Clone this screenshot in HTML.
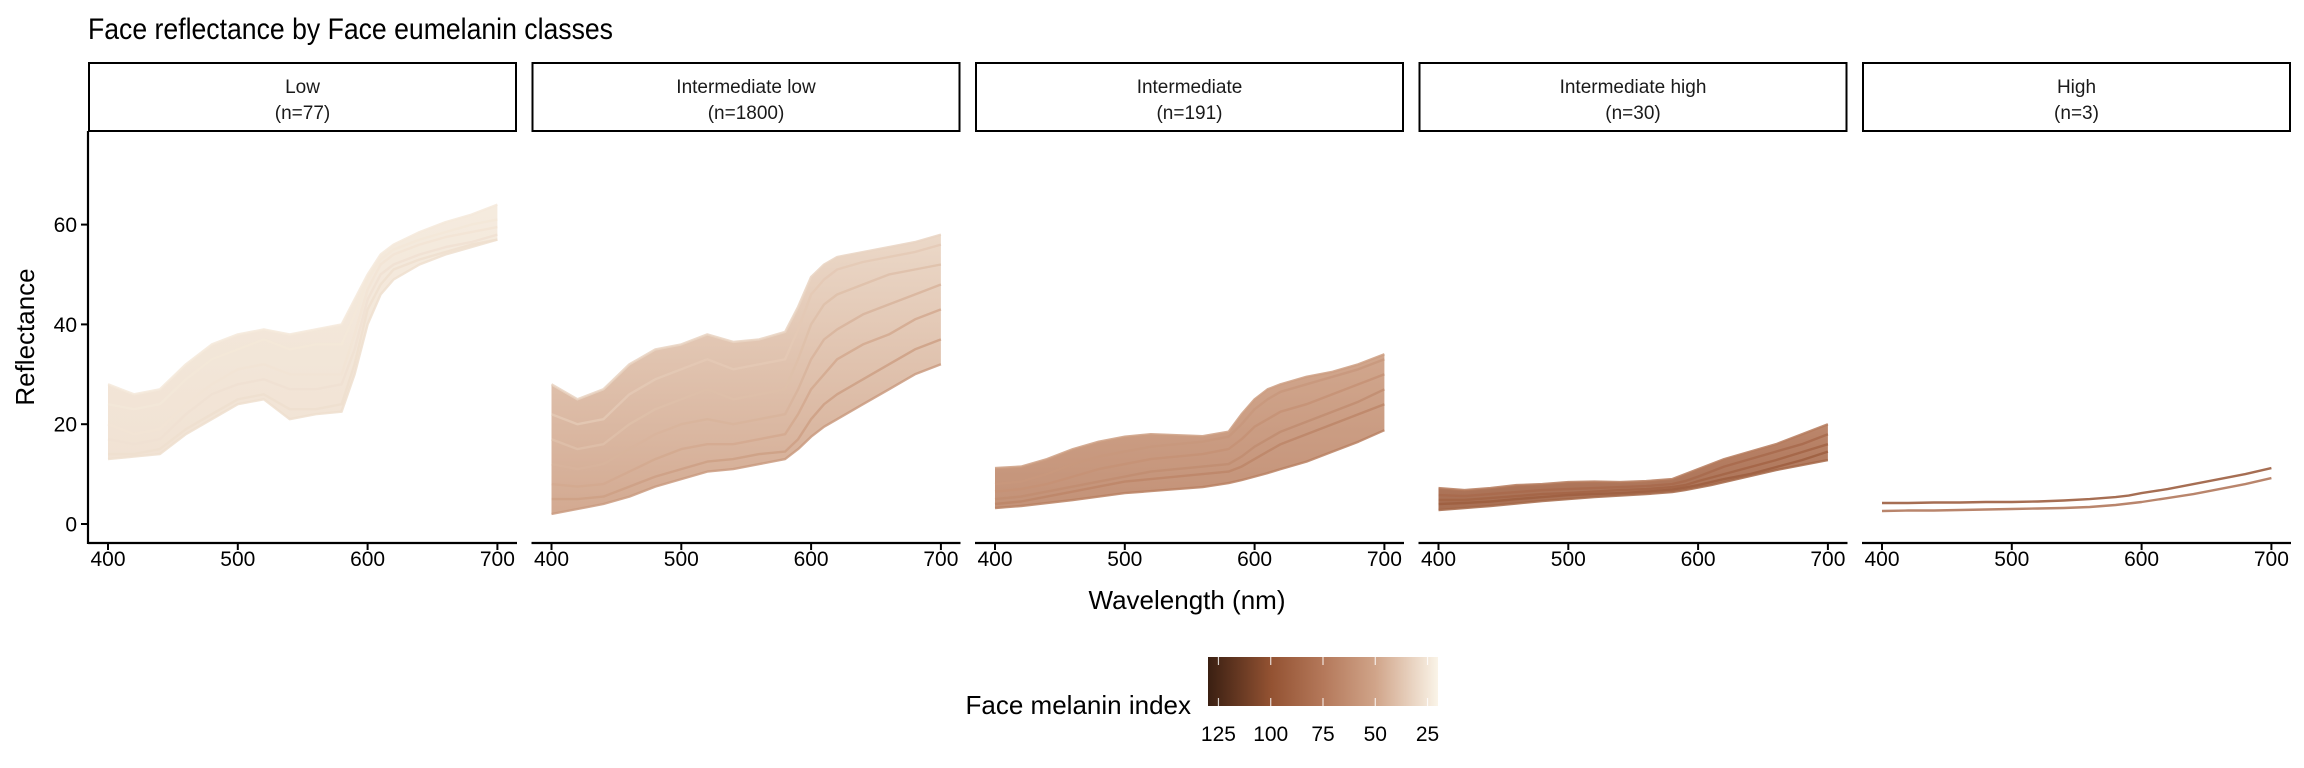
<!DOCTYPE html>
<html><head><meta charset="utf-8">
<style>
html,body{margin:0;padding:0;background:#fff;}
svg{display:block;font-family:"Liberation Sans",Arial,sans-serif;}
</style></head>
<body>
<svg id="chart" width="2304" height="768" viewBox="0 0 2304 768" xmlns="http://www.w3.org/2000/svg">
<defs id="defs">
<linearGradient id="legendGrad" x1="0" x2="1" y1="0" y2="0"></linearGradient>
</defs>
<text x="88" y="39" font-size="30" textLength="525" lengthAdjust="spacingAndGlyphs" fill="#000">Face reflectance by Face eumelanin classes</text>
<text transform="translate(34,337) rotate(-90)" text-anchor="middle" font-size="26" fill="#000">Reflectance</text>
<text x="1187" y="609" text-anchor="middle" font-size="26" fill="#000">Wavelength (nm)</text>
<g id="panels"></g>
<g id="legend"></g>
</svg>
<script>
const NS="http://www.w3.org/2000/svg";
const wavelengths=[400,420,440,460,480,500,520,540,560,580,590,600,610,620,640,660,680,700];
const panelLabels=["Low","Intermediate low","Intermediate","Intermediate high","High"];
const panelCounts=["(n=77)","(n=1800)","(n=191)","(n=30)","(n=3)"];
const xTicks=[400,500,600,700];
const yTicks=[0,20,40,60];
const legendTicks=[125,100,75,50,25];
// panel 1 (Low)
const lowCurves=[
 [28,26,27,32,36,38,39,38,39,40,45,50,54,56,58.5,60.5,62,64],
 [24,23,24,29,33,35,37,35,36,36,42,49,53,55,57,58.5,60,61],
 [20,18,19,24,28,31,32,30,30,30,38,47,52,54,56,57.5,58.5,59.5],
 [17,16,17,22,26,28,29,27,27,28,35,45,50,52,54,55.5,56.5,58],
 [14,14,15,19,22,25,26,23,23,24,32,43,48,51,53,54.5,56,57],
 [13,13.5,14,18,21,24,25,21,22,22.5,30,40,46,49,52,54,55.5,57]];
const lowIndex=[24,25,26,27,28,28];
// panel 2 (Intermediate low)
const intLowCurves=[
 [28,25,27,32,35,36,38,36.5,37,38.5,43.5,49.5,52,53.5,54.5,55.5,56.5,58],
 [22,20,21,26,29,31,33,31,32,33,39,46,49,51,52.5,53.5,54.5,56],
 [17,15,16,20,23,25,27,25,26,27,33,40,44,46,48,50,51,52],
 [12,11,12,15,18,20,21,20,21,22,27,33,37,39,42,44,46,48],
 [8,7.5,8,10.5,13,15,16,16,17,18,22,27,30,33,36,38,41,43],
 [5,5,5.5,7.5,9.5,11,12.5,13,14,14.5,17,21,24,26,29,32,35,37],
 [2,3,4,5.5,7.5,9,10.5,11,12,13,15,17.5,19.5,21,24,27,30,32]];
const intLowIndex=[32,36,40,44,48,52,55];
// panel 3 (Intermediate)
const intCurves=[
 [11.2,11.5,13,15,16.5,17.5,18,17.8,17.6,18.5,22,25,27,28,29.5,30.5,32,34],
 [8,8.5,10,12,13.5,14.5,15.5,16,16.5,17.5,20,23,25,26.5,28,29.5,31,33],
 [6.5,7,8,9.5,11,12,13,13.5,14,15,17,19.5,21,22.5,24,26,28,30],
 [5,5.5,6.5,7.5,8.5,9.5,10.5,11,11.5,12,13.5,15.5,17,18.5,20.5,22.5,24.5,27],
 [4,4.5,5.5,6.5,7.5,8.5,9,9.5,10,10.5,11.5,13,14.5,16,18,20,22,24],
 [3.2,3.6,4.2,4.8,5.5,6.2,6.6,7,7.4,8.2,8.8,9.5,10.2,11,12.5,14.5,16.5,18.8]];
const intIndex=[54,57,60,63,67,70];
// panel 4 (Intermediate high)
const intHighCurves=[
 [7.2,6.8,7.2,7.8,8,8.4,8.5,8.4,8.6,9,10,11,12,13,14.5,16,18,20],
 [5.8,5.6,6,6.4,6.8,7,7.2,7.4,7.6,8,8.6,9.5,10.5,11.5,13,14.5,16,18],
 [4.8,4.8,5.2,5.6,6,6.2,6.5,6.8,7,7.4,7.8,8.6,9.3,10,11.4,12.8,14.4,16],
 [4,4.2,4.5,5,5.4,5.8,6,6.2,6.5,6.9,7.3,7.8,8.4,9,10,11.4,12.8,14.5],
 [2.8,3.2,3.6,4.1,4.6,5,5.4,5.7,6,6.4,6.8,7.3,7.8,8.4,9.6,10.8,11.8,12.8]];
const intHighIndex=[74,84,88,92,86];
// panel 5 (High)
const highCurves=[
 [4.2,4.2,4.3,4.3,4.4,4.4,4.5,4.7,5,5.4,5.7,6.2,6.6,7,8,9,10,11.2],
 [2.6,2.7,2.7,2.8,2.9,3,3.1,3.2,3.4,3.8,4.1,4.4,4.8,5.2,6,7,8,9.2]];
const highIndex=[98,80];

const panelCurves=[lowCurves,intLowCurves,intCurves,intHighCurves,highCurves];
const panelIndex=[lowIndex,intLowIndex,intIndex,intHighIndex,highIndex];

const PITCH=443.5, AXL=88, AXR=517, TOP=131, BOT=543;
function xScale(w,p){return 108+(w-400)*1.298+p*PITCH;}
function yScale(r){return 524-r*4.99;}
const cStops=[[130,[58,31,18]],[100,[147,82,50]],[75,[180,120,90]],[50,[208,164,137]],[20,[250,244,232]]];
function colorOf(v){
  for(let i=0;i<cStops.length-1;i++){
    const a=cStops[i],b=cStops[i+1];
    if(v<=a[0]&&v>=b[0]){const t=(a[0]-v)/(a[0]-b[0]);
      const c=a[1].map((x,k)=>Math.round(x+(b[1][k]-x)*t));return `rgb(${c[0]},${c[1]},${c[2]})`;}
  }
  return v>130?"rgb(58,31,18)":"rgb(250,244,232)";
}
function mk(tag,attrs,parent){const e=document.createElementNS(NS,tag);for(const k in attrs)e.setAttribute(k,attrs[k]);if(parent)parent.appendChild(e);return e;}

const defs=document.getElementById('defs');
const panels=document.getElementById('panels');
panelCurves.forEach((curves,p)=>{
  const g=mk('g',{},panels);
  
  
  const off=p*PITCH;
  const strip=mk('rect',{x:89+off,y:63,width:427,height:68,fill:'#fff',stroke:'#000','stroke-width':2},g);
  
  
  const t1=mk('text',{x:302.5+off,y:93,'text-anchor':'middle','font-size':19,fill:'#1a1a1a'},g);
  t1.textContent=panelLabels[p];
  
  
  const t2=mk('text',{x:302.5+off,y:119,'text-anchor':'middle','font-size':19,fill:'#1a1a1a'},g);
  t2.textContent=panelCounts[p];
  
  
  const idx=panelIndex[p];
  if(curves.length>2){
    const up=curves[0],lo=curves[curves.length-1];
    const yTop=yScale(Math.max(...up)), yBot=yScale(Math.min(...lo));
    const gr=mk('linearGradient',{id:'bandGrad'+p,gradientUnits:'userSpaceOnUse',x1:0,x2:0,y1:yTop,y2:yBot},defs);
    mk('stop',{offset:0,'stop-color':colorOf(idx[0])},gr);
    mk('stop',{offset:1,'stop-color':colorOf(idx[idx.length-2])},gr);
    let d=wavelengths.map((w,i)=>(i?'L':'M')+xScale(w,p).toFixed(1)+','+yScale(up[i]).toFixed(1)).join('');
    for(let i=wavelengths.length-1;i>=0;i--)d+='L'+xScale(wavelengths[i],p).toFixed(1)+','+yScale(lo[i]).toFixed(1);
    const band=mk('path',{d:d+'Z',fill:'url(#bandGrad'+p+')','fill-opacity':0.9},g);
    
    
  }
  curves.forEach((c,ci)=>{
    const d=wavelengths.map((w,i)=>(i?'L':'M')+xScale(w,p).toFixed(1)+','+yScale(c[i]).toFixed(1)).join('');
    const ln=mk('path',{d:d,fill:'none',stroke:colorOf(idx[ci]),'stroke-width':2.4,'stroke-opacity':0.85,'stroke-linejoin':'round'},g);
    
    
  });
  const xa=mk('line',{x1:AXL+off,x2:AXR+off,y1:BOT,y2:BOT,stroke:'#000','stroke-width':2.2},g);
  
  
  xTicks.forEach(v=>{
    const x=xScale(v,p);
    const tk=mk('line',{x1:x,x2:x,y1:BOT,y2:BOT+7,stroke:'#000','stroke-width':2},g);
    
    
    const tl=mk('text',{x:x,y:566,'text-anchor':'middle','font-size':21,fill:'#000'},g);
    tl.textContent=v;
    
    
  });
  if(p===0){
    const ya=mk('line',{x1:AXL,x2:AXL,y1:TOP,y2:BOT+1,stroke:'#000','stroke-width':2.2},g);
    
    
    yTicks.forEach(v=>{
      const y=yScale(v);
      const tk=mk('line',{x1:AXL-7,x2:AXL,y1:y,y2:y,stroke:'#000','stroke-width':2},g);
      
      
      const tl=mk('text',{x:AXL-11,y:y+7.5,'text-anchor':'end','font-size':21,fill:'#000'},g);
      tl.textContent=v;
      
      
    });
  }
});

const grad=document.getElementById('legendGrad');
const LX0=1208,LX1=1438,LV0=130,LV1=20;
function lx(v){return LX0+(LV0-v)/(LV0-LV1)*(LX1-LX0);}
cStops.forEach(s=>{mk('stop',{offset:((LV0-s[0])/(LV0-LV1)).toFixed(3),'stop-color':colorOf(s[0])},grad);});
const lg=document.getElementById('legend');
const lt=mk('text',{x:1191,y:714,'text-anchor':'end','font-size':26,fill:'#000'},lg);
lt.textContent='Face melanin index';


const bar=mk('rect',{x:LX0,y:657,width:LX1-LX0,height:49,fill:'url(#legendGrad)'},lg);


legendTicks.forEach(v=>{
  const x=lx(v);
  const a=mk('line',{x1:x,x2:x,y1:657,y2:665,stroke:'#fff','stroke-width':1.2,'stroke-opacity':0.8},lg);
  
  
  const b=mk('line',{x1:x,x2:x,y1:698,y2:706,stroke:'#fff','stroke-width':1.2,'stroke-opacity':0.8},lg);
  
  
  const t=mk('text',{x:x,y:741,'text-anchor':'middle','font-size':21,fill:'#000'},lg);
  t.textContent=v;
  
  
});
</script>
</body></html>
